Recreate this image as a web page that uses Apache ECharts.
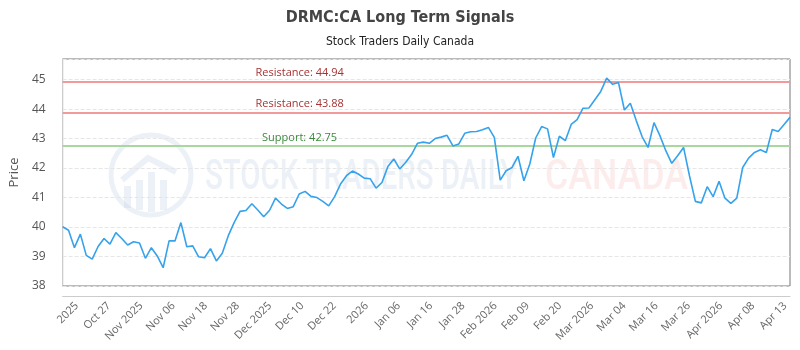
<!DOCTYPE html>
<html>
<head>
<meta charset="utf-8">
<script src="https://cdn.jsdelivr.net/npm/echarts@6/dist/echarts.min.js"></script>
<style>
  html, body { margin: 0; padding: 0; background: #fff; }
  #root { width: 800px; height: 350px; }
</style>
</head>
<body>
<div id="root"></div>
<script>
// closing prices, one per trading day
var prices = [
  40.01, 39.89, 39.30, 39.76, 39.04, 38.91, 39.34, 39.61, 39.42, 39.81,
  39.61, 39.39, 39.50, 39.46, 38.94, 39.30, 39.02, 38.62, 39.53, 39.53,
  40.15, 39.33, 39.36, 38.99, 38.96, 39.27, 38.85, 39.11, 39.70, 40.15,
  40.53, 40.56, 40.79, 40.58, 40.35, 40.57, 40.98, 40.78, 40.63, 40.69,
  41.12, 41.21, 41.04, 41.00, 40.87, 40.72, 41.03, 41.46, 41.74, 41.90,
  41.80, 41.66, 41.64, 41.32, 41.51, 42.05, 42.31, 41.97, 42.19, 42.46,
  42.84, 42.88, 42.84, 43.00, 43.05, 43.11, 42.75, 42.82, 43.18, 43.23,
  43.24, 43.30, 43.38, 43.04, 41.59, 41.91, 42.02, 42.40, 41.57, 42.14,
  43.02, 43.41, 43.33, 42.36, 43.08, 42.93, 43.48, 43.64, 44.03, 44.04,
  44.32, 44.60, 45.05, 44.84, 44.90, 43.97, 44.20, 43.61, 43.06, 42.70,
  43.54, 43.10, 42.59, 42.16, 42.42, 42.70, 41.74, 40.87, 40.82, 41.37,
  41.03, 41.55, 40.98, 40.80, 40.98, 42.02, 42.34, 42.53, 42.62, 42.53,
  43.31, 43.24, 43.48, 43.72
];

var tickLabels = [
  '2025', 'Oct 27', 'Nov 2025', 'Nov 06', 'Nov 18', 'Nov 28', 'Dec 2025',
  'Dec 10', 'Dec 22', '2026', 'Jan 06', 'Jan 16', 'Jan 28', 'Feb 2026',
  'Feb 09', 'Feb 20', 'Mar 2026', 'Mar 04', 'Mar 16', 'Mar 26',
  'Apr 2026', 'Apr 08', 'Apr 13'
];

var resistanceLevels = [44.94, 43.88];
var supportLevels = [42.75];

// label ticks are spread evenly across the data range
var firstTick = 2.4;
var lastTick = 122.2;
var lastIndex = prices.length - 1;
var tickStep = (lastTick - firstTick) / (tickLabels.length - 1);
var tickPos = tickLabels.map(function (t, k) { return firstTick + k * tickStep; });

var lineData = prices.map(function (p, i) { return [i, p]; });

var chart = echarts.init(document.getElementById('root'));

var levelLines = [];
resistanceLevels.forEach(function (v) {
  levelLines.push({
    yAxis: v,
    lineStyle: { color: '#f29a9a', width: 2, type: 'solid' },
    label: { formatter: 'Resistance: ' + v.toFixed(2), color: '#a83232' }
  });
});
supportLevels.forEach(function (v) {
  levelLines.push({
    yAxis: v,
    lineStyle: { color: '#a8d8a0', width: 2, type: 'solid' },
    label: { formatter: 'Support: ' + v.toFixed(2), color: '#3b8a3b' }
  });
});

var wmColor = 'rgba(200,212,232,0.35)';
var titleFont = "'Liberation Sans Narrow', 'DejaVu Sans Condensed', Roboto, sans-serif";

var option = {
  animation: false,
  title: {
    text: 'DRMC:CA Long Term Signals',
    subtext: 'Stock Traders Daily Canada',
    left: 'center',
    top: 5,
    itemGap: 10,
    textStyle: { fontSize: 16, fontWeight: 'bold', color: '#444', fontFamily: titleFont },
    subtextStyle: { fontSize: 12, color: '#222', fontFamily: titleFont }
  },
  graphic: [
    // watermark
    { type: 'circle', shape: { cx: 151, cy: 175, r: 40 }, style: { fill: 'none', stroke: wmColor, lineWidth: 5 }, z: 0, silent: true },
    { type: 'polyline', shape: { points: [[122, 180], [148, 158], [176, 172]] }, style: { fill: 'none', stroke: wmColor, lineWidth: 6 }, z: 0, silent: true },
    { type: 'rect', shape: { x: 124, y: 186, width: 7, height: 22 }, style: { fill: wmColor }, z: 0, silent: true },
    { type: 'rect', shape: { x: 136, y: 180, width: 7, height: 30 }, style: { fill: wmColor }, z: 0, silent: true },
    { type: 'rect', shape: { x: 148, y: 172, width: 7, height: 40 }, style: { fill: wmColor }, z: 0, silent: true },
    { type: 'rect', shape: { x: 160, y: 180, width: 7, height: 30 }, style: { fill: wmColor }, z: 0, silent: true },
    { type: 'text', x: 205, y: 178, scaleX: 0.7, z: 0, silent: true,
      style: { text: 'STOCK TRADERS DAILY', align: 'left', verticalAlign: 'middle', fill: wmColor,
               font: '500 42px Roboto, sans-serif' } },
    { type: 'text', x: 545, y: 178, scaleX: 0.85, z: 0, silent: true,
      style: { text: 'CANADA', align: 'left', verticalAlign: 'middle', fill: 'rgba(250,200,200,0.35)',
               font: '500 42px Roboto, sans-serif' } }
  ],
  grid: {
    left: 61, right: 10, top: 59, bottom: 64,
    show: true, borderColor: '#777', borderWidth: 1, backgroundColor: 'transparent'
  },
  xAxis: {
    type: 'value',
    min: 0,
    max: lastIndex,
    offset: 10,
    axisLine: { show: true, onZero: false, lineStyle: { color: '#ccc' } },
    axisTick: { show: false },
    splitLine: { show: false },
    axisLabel: {
      rotate: 45,
      fontSize: 11,
      color: '#666',
      margin: 8,
      fontFamily: "'Open Sans', sans-serif",
      customValues: tickPos,
      formatter: function (val) {
        for (var k = 0; k < tickPos.length; k++) {
          if (Math.abs(tickPos[k] - val) < 0.01) return tickLabels[k];
        }
        return '';
      }
    }
  },
  yAxis: {
    type: 'value',
    min: 38,
    max: 45.7,
    interval: 1,
    offset: 11,
    name: 'Price',
    nameLocation: 'middle',
    nameGap: 30,
    nameTextStyle: { fontSize: 13, color: '#555', fontFamily: "'Open Sans', sans-serif" },
    axisLine: { show: true, lineStyle: { color: '#ccc' } },
    axisTick: { show: false },
    axisLabel: {
      fontSize: 12, color: '#555', margin: 6, fontFamily: "'Open Sans', sans-serif",
      showMaxLabel: false
    },
    splitLine: { show: true, lineStyle: { color: '#e6e6e6', type: 'dashed' } }
  },
  series: [
    {
      type: 'line',
      data: lineData,
      showSymbol: false,
      z: 3,
      lineStyle: { color: 'rgb(54,162,235)', width: 1.6 },
      markLine: {
        silent: true,
        symbol: 'none',
        z: 2,
        label: {
          position: 'insideStartTop',
          align: 'center',
          distance: [237, 3],
          fontSize: 11,
          fontFamily: "'Open Sans', sans-serif"
        },
        data: levelLines
      }
    }
  ]
};

chart.setOption(option);
</script>
</body>
</html>
